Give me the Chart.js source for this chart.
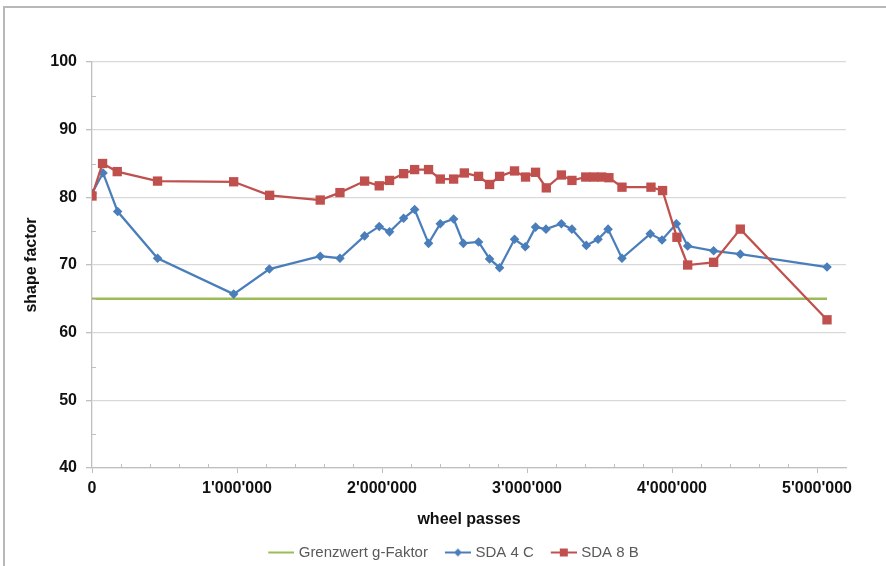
<!DOCTYPE html>
<html>
<head>
<meta charset="utf-8">
<title>shape factor vs wheel passes</title>
<script src="https://cdn.jsdelivr.net/npm/chart.js@4.4.0/dist/chart.umd.min.js"></script>
<style>
    body { margin: 0; background: #fff; }
    #frame {
        position: absolute; left: 3px; top: 6px; width: 900px; height: 600px;
        border-left: 2px solid #b8b8b8; border-top: 2px solid #b8b8b8;
    }
    #wrap { position: absolute; left: 0; top: 0; width: 886px; height: 566px; }
</style>
</head>
<body>
<div id="frame"></div>
<div id="wrap"><canvas id="chart" width="886" height="566"></canvas></div>
<script>
// values
const limitX = [0, 5069000];
const limitY = [65, 65];

const sda4X = [0, 76000, 177000, 452000, 977000, 1223000, 1574000, 1710000, 1880000, 1981000,
    2052000, 2149000, 2225000, 2321000, 2402000, 2494000, 2561000, 2666000, 2742000, 2811000,
    2914000, 2988000, 3059000, 3131000, 3237000, 3310000, 3409000, 3490000, 3559000, 3655000,
    3850000, 3931000, 4030000, 4108000, 4287000, 4471000, 5069000];
const sda4Y = [80.6, 83.6, 77.9, 71.0, 65.7, 69.4, 71.3, 71.0, 74.3, 75.7,
    74.9, 76.9, 78.2, 73.2, 76.1, 76.8, 73.2, 73.4, 70.9, 69.6,
    73.8, 72.7, 75.6, 75.3, 76.1, 75.3, 72.9, 73.8, 75.3, 71.0,
    74.6, 73.7, 76.1, 72.8, 72.1, 71.6, 69.7];

const sda8X = [0, 73000, 174000, 452000, 977000, 1225000, 1574000, 1710000, 1880000, 1981000,
    2052000, 2149000, 2225000, 2321000, 2402000, 2494000, 2568000, 2666000, 2742000, 2811000,
    2914000, 2990000, 3059000, 3133000, 3237000, 3310000, 3405000, 3460000, 3515000, 3565000,
    3655000, 3855000, 3935000, 4034000, 4108000, 4287000, 4471000, 5069000];
const sda8Y = [80.2, 85.0, 83.8, 82.4, 82.3, 80.3, 79.6, 80.7, 82.4, 81.7,
    82.5, 83.5, 84.1, 84.1, 82.7, 82.7, 83.6, 83.1, 81.9, 83.1,
    83.9, 83.0, 83.7, 81.4, 83.3, 82.5, 83.0, 83.0, 83.0, 82.9,
    81.5, 81.5, 81.0, 74.1, 70.0, 70.4, 75.3, 61.9];

const xTickValues = [0, 1000000, 2000000, 3000000, 4000000, 5000000];
const seriesNames = ['Grenzwert g-Faktor', 'SDA 4 C', 'SDA 8 B'];

const GREEN = '#9bbb59';
const BLUE = '#4a7ebb';
const RED = '#c0504d';
const FONT = "'Liberation Sans', Arial, sans-serif";

function toPoints(xs, ys) {
    return xs.map((x, i) => ({ x: x, y: ys[i] }));
}

function formatPasses(v) {
    return String(v).replace(/\B(?=(\d{3})+(?!\d))/g, "'");
}

// little line+marker pictures for the legend (blank strip on the left keeps items apart)
function legendImage(color, marker) {
    let c = document.createElement('canvas');
    c.width = 42;
    c.height = 12;
    let g = c.getContext('2d');
    g.strokeStyle = color;
    g.lineWidth = 2;
    g.beginPath();
    g.moveTo(16, 6);
    g.lineTo(42, 6);
    g.stroke();
    g.fillStyle = color;
    if (marker == 'diamond') {
        g.beginPath();
        g.moveTo(29, 2);
        g.lineTo(33, 6);
        g.lineTo(29, 10);
        g.lineTo(25, 6);
        g.closePath();
        g.fill();
    } else if (marker == 'square') {
        g.fillRect(25, 2, 8, 8);
    }
    return c;
}

const legendImages = [legendImage(GREEN, null), legendImage(BLUE, 'diamond'), legendImage(RED, 'square')];

// minor tick marks like the original spreadsheet chart
const minorTicks = {
    id: 'minorTicks',
    afterLayout(chart) {
        // legend sits a bit lower and right of centre in the original
        chart.legend.left += 15;
        chart.legend.right += 15;
        chart.legend.top += 8;
        chart.legend.bottom += 8;
    },
    afterDraw(chart) {
        let ctx = chart.ctx;
        let xs = chart.scales.x;
        let ys = chart.scales.y;
        ctx.save();
        ctx.strokeStyle = '#bfbfbf';
        ctx.lineWidth = 1;
        ctx.beginPath();
        for (let v = 200000; v < 5200000; v += 200000) {
            if (v % 1000000 == 0) continue;
            let px = Math.round(xs.getPixelForValue(v)) + 0.5;
            ctx.moveTo(px, ys.bottom);
            ctx.lineTo(px, ys.bottom - 4);
        }
        for (let v = 45; v < 100; v += 10) {
            let py = Math.round(ys.getPixelForValue(v)) + 0.5;
            ctx.moveTo(xs.left, py);
            ctx.lineTo(xs.left + 4, py);
        }
        ctx.stroke();
        ctx.restore();
    }
};

const data = {
    datasets: [{
        label: seriesNames[0],
        data: toPoints(limitX, limitY),
        borderColor: GREEN,
        borderWidth: 2.5,
        pointRadius: 0,
        order: 3
    }, {
        label: seriesNames[1],
        data: toPoints(sda4X, sda4Y),
        borderColor: BLUE,
        backgroundColor: BLUE,
        borderWidth: 2.25,
        pointStyle: 'rectRot',
        pointRadius: 4.8,
        pointBorderWidth: 0,
        order: 2
    }, {
        label: seriesNames[2],
        data: toPoints(sda8X, sda8Y),
        borderColor: RED,
        backgroundColor: RED,
        borderWidth: 2.25,
        pointStyle: 'rect',
        pointRadius: 6.6,
        pointBorderWidth: 0,
        order: 1
    }]
};

const config = {
    type: 'line',
    data: data,
    plugins: [minorTicks],
    options: {
        responsive: false,
        animation: false,
        events: [],
        layout: {
            padding: { left: 18, top: 62, right: 40, bottom: 4 }
        },
        scales: {
            x: {
                type: 'linear',
                min: 0,
                max: 5200000,
                grid: {
                    drawOnChartArea: false,
                    tickLength: 5,
                    color: '#bfbfbf'
                },
                border: { color: '#bfbfbf', width: 1.3 },
                ticks: {
                    maxRotation: 0,
                    autoSkip: false,
                    padding: 6,
                    color: '#111',
                    font: { family: FONT, size: 16, weight: 'bold' },
                    callback: (v) => formatPasses(v)
                },
                afterBuildTicks: (scale) => {
                    scale.ticks = xTickValues.map((v) => ({ value: v }));
                },
                title: {
                    display: true,
                    text: 'wheel passes',
                    color: '#111',
                    font: { family: FONT, size: 16, weight: 'bold' }
                },
                afterFit: (scale) => { scale.height = 65; }
            },
            y: {
                min: 40,
                max: 100,
                grid: {
                    color: '#d9d9d9',
                    lineWidth: 1.3,
                    tickLength: 6,
                    tickColor: '#bfbfbf'
                },
                border: { color: '#bfbfbf', width: 1.3 },
                ticks: {
                    stepSize: 10,
                    padding: 9,
                    color: '#111',
                    font: { family: FONT, size: 16, weight: 'bold' }
                },
                title: {
                    display: true,
                    text: 'shape factor',
                    color: '#111',
                    font: { family: FONT, size: 16, weight: 'bold' }
                },
                afterFit: (scale) => { scale.width = 74; }
            }
        },
        plugins: {
            legend: {
                position: 'bottom',
                labels: {
                    usePointStyle: true,
                    pointStyleWidth: 36,
                    boxHeight: 12,
                    padding: 4,
                    color: '#595959',
                    font: { family: FONT, size: 15 },
                    generateLabels: (chart) => chart.data.datasets.map((ds, i) => ({
                        text: ds.label,
                        pointStyle: legendImages[i],
                        fillStyle: ds.borderColor,
                        strokeStyle: ds.borderColor,
                        lineWidth: 0,
                        fontColor: '#595959',
                        datasetIndex: i
                    }))
                }
            },
            tooltip: { enabled: false }
        }
    }
};

new Chart(document.getElementById('chart'), config);
</script>
</body>
</html>
